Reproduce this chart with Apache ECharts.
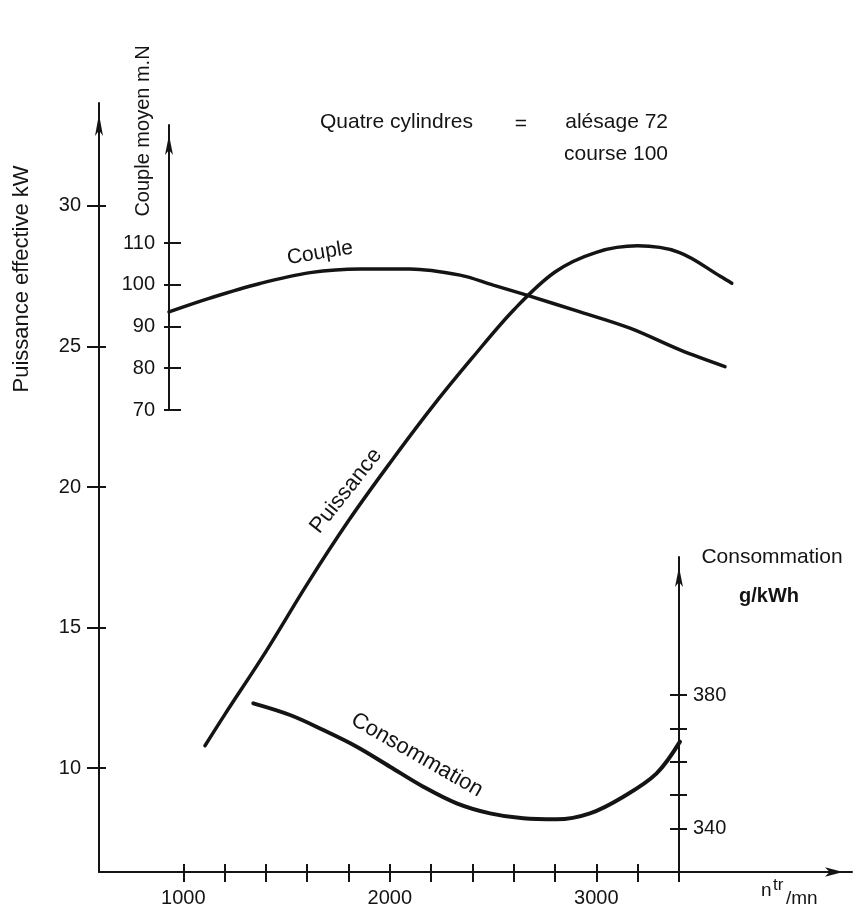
<!DOCTYPE html>
<html>
<head>
<meta charset="utf-8">
<title>Quatre cylindres</title>
<script src="https://cdn.jsdelivr.net/npm/echarts@6/dist/echarts.min.js"></script>
<style>
  html, body { margin: 0; padding: 0; background: #fff; }
  #chart { width: 853px; height: 913px; }
</style>
</head>
<body>
<div id="chart"></div>
<script>
// axes
var rpmTicks = [1000, 1200, 1400, 1600, 1800, 2000, 2200, 2400, 2600, 2800, 3000, 3200, 3400];
var rpmLabels = [1000, 2000, 3000];
var powerTicks = [10, 15, 20, 25, 30];
var coupleTicks = [70, 80, 90, 100, 110];
var consTicks = [340, 350, 360, 370, 380];
var consLabels = [340, 380];

// Puissance effective (kW)
var rpmPower = [1105, 1200, 1400, 1600, 1800, 2000, 2200, 2400, 2600, 2800, 3000, 3200, 3400, 3600, 3656];
var power = [10.8, 11.9, 14.15, 16.55, 18.8, 20.85, 22.8, 24.6, 26.3, 27.65, 28.35, 28.58, 28.35, 27.5, 27.25];

// Couple moyen (m.N)
var rpmCouple = [931, 1129, 1371, 1614, 1856, 2098, 2340, 2501, 2663, 2921, 3163, 3405, 3623];
var couple = [93.5, 96.8, 100.3, 102.9, 103.8, 103.8, 102.3, 99.9, 97.5, 93.5, 89.6, 84.4, 80.4];

// Consommation (g/kWh)
var rpmCons = [1339, 1517, 1678, 1840, 2001, 2162, 2324, 2485, 2646, 2808, 2969, 3131, 3292, 3405];
var cons = [377.5, 374, 369.5, 364.5, 358.5, 352.5, 347.5, 344.5, 343, 342.7, 344.5, 349.5, 356.5, 366];

var INK = '#141414';
var FONT = '"Liberation Sans", Arial, sans-serif';

function pairs(xs, ys) {
  var out = [];
  for (var i = 0; i < xs.length; i++) {
    out.push([xs[i], ys[i]]);
  }
  return out;
}

function plain(v) {
  return String(v);
}

function rpmAxis(gridIndex, opts) {
  var axis = {
    type: 'value',
    gridIndex: gridIndex,
    position: 'bottom',
    min: 592,
    max: 4238,
    splitLine: { show: false },
    axisLine: { show: false, onZero: false },
    axisTick: { show: false },
    axisLabel: { show: false }
  };
  for (var k in opts) axis[k] = opts[k];
  return axis;
}

function valueAxis(gridIndex, min, max, offset, ticks, opts) {
  var axis = {
    type: 'value',
    gridIndex: gridIndex,
    position: 'left',
    offset: offset,
    min: min,
    max: max,
    splitLine: { show: false },
    axisLine: { show: false, onZero: false },
    axisTick: { show: true, customValues: ticks, length: 8, lineStyle: { color: INK, width: 2 } },
    axisLabel: { show: false }
  };
  for (var k in opts) axis[k] = opts[k];
  return axis;
}

function arrowLine(w, h) {
  return {
    show: true,
    onZero: false,
    symbol: ['none', 'arrow'],
    symbolSize: [w, h],
    symbolOffset: [0, -h / 2],
    lineStyle: { color: INK, width: 2 }
  };
}

function tickLabels(values, margin, inside) {
  return {
    show: true,
    inside: !!inside,
    customValues: values,
    margin: margin,
    formatter: plain,
    color: INK,
    fontSize: 20,
    fontFamily: FONT
  };
}

function curve(name, xi, yi, data, width) {
  return {
    name: name,
    type: 'line',
    xAxisIndex: xi,
    yAxisIndex: yi,
    data: data,
    smooth: 0.35,
    showSymbol: false,
    silent: true,
    clip: false,
    lineStyle: { color: INK, width: width, cap: 'round' }
  };
}

function text(str, x, y, size, opts) {
  var el = {
    type: 'text',
    x: x,
    y: y,
    rotation: 0,
    style: {
      text: str,
      font: 'normal ' + size + 'px ' + FONT,
      fill: INK,
      textAlign: 'center',
      textVerticalAlign: 'middle',
      align: 'center',
      verticalAlign: 'middle'
    }
  };
  if (opts) {
    if (opts.rotation != null) el.rotation = opts.rotation;
    if (opts.align) { el.style.textAlign = opts.align; el.style.align = opts.align; }
    if (opts.weight) el.style.font = opts.weight + ' ' + size + 'px ' + FONT;
  }
  return el;
}

var chart = echarts.init(document.getElementById('chart'), null, { renderer: 'canvas' });

var option = {
  backgroundColor: '#ffffff',
  animation: false,
  grid: [
    { left: 99, right: 1, top: 103, bottom: 41 },   // puissance
    { left: 99, right: 1, top: 125, bottom: 503 },  // couple
    { left: 99, right: 1, top: 557, bottom: 41 }    // consommation
  ],
  xAxis: [
    rpmAxis(0, {
      axisLine: arrowLine(7, 18),
      axisTick: { show: true, customValues: rpmTicks, length: 10, lineStyle: { color: INK, width: 2 } },
      axisLabel: tickLabels(rpmLabels, 16)
    }),
    rpmAxis(0, {
      axisTick: { show: true, inside: true, customValues: rpmTicks, length: 8, lineStyle: { color: INK, width: 2 } }
    }),
    rpmAxis(1, { show: false }),
    rpmAxis(2, { show: false })
  ],
  yAxis: [
    valueAxis(0, 6.31, 33.66, 0, powerTicks, {
      axisLine: arrowLine(6, 22),
      axisTick: { show: true, customValues: powerTicks, length: 12, lineStyle: { color: INK, width: 2 } },
      axisLabel: tickLabels(powerTicks, 18)
    }),
    valueAxis(0, 6.31, 33.66, 0, powerTicks, {
      axisTick: { show: true, inside: true, customValues: powerTicks, length: 7, lineStyle: { color: INK, width: 2 } }
    }),
    valueAxis(1, 70, 138.26, -70, coupleTicks, {
      axisLine: arrowLine(6, 20),
      axisTick: { show: true, customValues: coupleTicks, length: 5, lineStyle: { color: INK, width: 2 } },
      axisLabel: tickLabels(coupleTicks, 14)
    }),
    valueAxis(1, 70, 138.26, -70, coupleTicks, {
      axisTick: { show: true, inside: true, customValues: coupleTicks, length: 12, lineStyle: { color: INK, width: 2 } }
    }),
    valueAxis(2, 326.9, 421.4, -580, consTicks, {
      axisLine: arrowLine(6, 20),
      axisTick: { show: true, customValues: consTicks, length: 9, lineStyle: { color: INK, width: 2 } },
      axisLabel: tickLabels(consLabels, 14, true)
    }),
    valueAxis(2, 326.9, 421.4, -580, consTicks, {
      axisTick: { show: true, inside: true, customValues: consTicks, length: 8, lineStyle: { color: INK, width: 2 } }
    })
  ],
  series: [
    curve('Puissance', 0, 0, pairs(rpmPower, power), 3.5),
    curve('Couple', 2, 2, pairs(rpmCouple, couple), 3.5),
    curve('Consommation', 3, 4, pairs(rpmCons, cons), 4)
  ],
  graphic: [
    text('Puissance effective kW', 22, 279, 22, { rotation: Math.PI / 2 }),
    text('Couple moyen m.N', 143, 131, 20, { rotation: Math.PI / 2 }),
    text('Quatre cylindres', 320, 122, 21, { align: 'left' }),
    text('=', 521, 124, 21),
    text('alésage 72', 668, 122, 21, { align: 'right' }),
    text('course 100', 668, 154, 21, { align: 'right' }),
    text('Couple', 320, 253, 21, { rotation: 0.165 }),
    text('Puissance', 346, 491, 22, { rotation: 0.9 }),
    text('Consommation', 417, 755, 22, { rotation: -0.52 }),
    text('Consommation', 772, 557, 21),
    text('g/kWh', 769, 596, 20, { weight: 'bold' }),
    text('n', 761, 891, 19, { align: 'left' }),
    text('tr', 773, 885, 17, { align: 'left' }),
    text('/mn', 786, 899, 19, { align: 'left' })
  ]
};

chart.setOption(option);
</script>
</body>
</html>
